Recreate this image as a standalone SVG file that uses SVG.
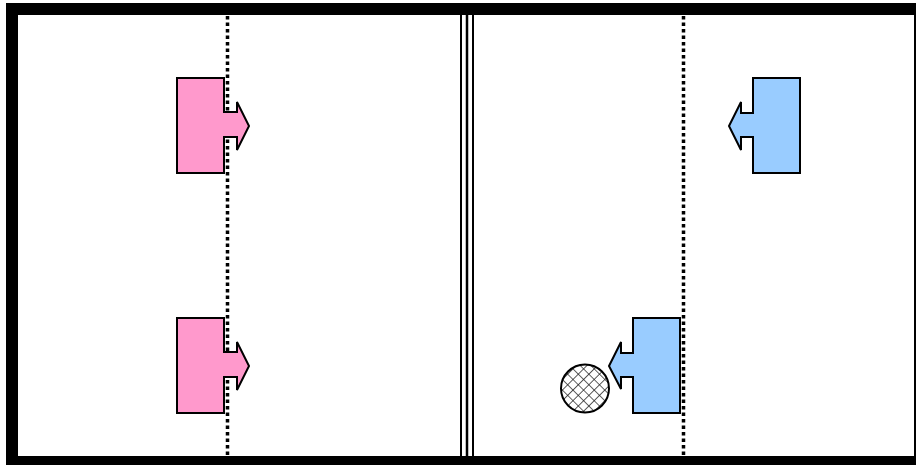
<svg xmlns="http://www.w3.org/2000/svg" width="916" height="465" viewBox="0 0 916 465">
<style>
.pink{fill:#FF99CC;stroke:#000;stroke-width:2;stroke-linejoin:miter}
.blue{fill:#99CCFF;stroke:#000;stroke-width:2;stroke-linejoin:miter}
.dot{stroke:#000;stroke-width:3.5;stroke-dasharray:3.5 3;fill:none}
.div{stroke:#000}
</style>
<defs>
<pattern id="hatch" width="7.5" height="7.5" patternUnits="userSpaceOnUse" patternTransform="rotate(45 585 388)">
<rect width="7.5" height="7.5" fill="#fff"/>
<path d="M0,0 H7.5 M0,0 V7.5" stroke="#222" stroke-width="1.5"/>
</pattern>
</defs>
<rect x="0" y="0" width="916" height="465" fill="#fff"/>
<g id="field">
<rect x="12" y="9" width="908" height="453" fill="none" stroke="#000" stroke-width="12"/>
<line class="div" stroke-width="2" x1="461" y1="15" x2="461" y2="456"/>
<line class="div" stroke-width="2.5" x1="467" y1="15" x2="467" y2="456"/>
<line class="div" stroke-width="2" x1="473" y1="15" x2="473" y2="456"/>
<line class="dot" x1="227.5" y1="16" x2="227.5" y2="455"/>
<line class="dot" x1="683.5" y1="16" x2="683.5" y2="455"/>
</g>
<g id="pink1"><path class="pink" d="M177,78 H224 V112 H237 V102 L249,126 L237,150 V137 H224 V173 H177 Z"/></g>
<g id="pink2"><path class="pink" d="M177,318 H224 V352 H237 V342 L249,366 L237,390 V377 H224 V413 H177 Z"/></g>
<g id="blue1"><path class="blue" d="M800,78 H753 V113 H741 V102 L729,126 L741,150 V137 H753 V173 H800 Z"/></g>
<g id="blue2"><path class="blue" d="M680,318 H633 V353 H621 V342 L609,366 L621,389 V377 H633 V413 H680 Z"/></g>
<g id="ball"><circle cx="585" cy="388.5" r="24" fill="url(#hatch)" stroke="#000" stroke-width="2"/></g>
<g id="connectors"></g>
</svg>
